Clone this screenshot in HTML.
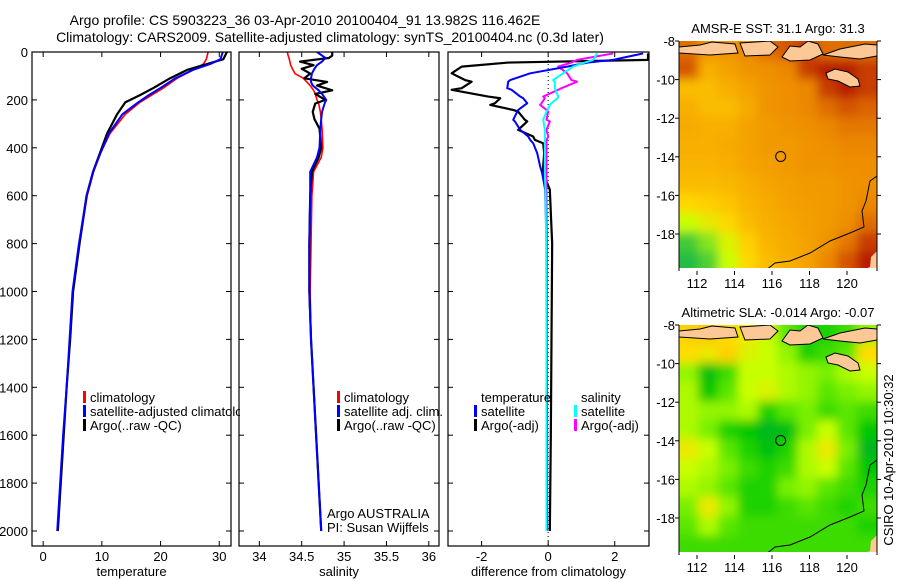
<!DOCTYPE html>
<html><head><meta charset="utf-8"><style>
body{margin:0;background:#fff}
svg{display:block;font-family:"Liberation Sans",sans-serif}
</style></head><body>
<svg id="fig" width="900" height="580" viewBox="0 0 900 580">
<text x="305" y="25" text-anchor="middle" font-size="14">Argo profile: CS 5903223_36 03-Apr-2010 20100404_91 13.982S 116.462E</text>
<text x="330" y="42" text-anchor="middle" font-size="14">Climatology: CARS2009. Satellite-adjusted climatology: synTS_20100404.nc (0.3d later)</text>
<g id="plots"></g>
<text transform="translate(893,460) rotate(-90)" text-anchor="middle" font-size="13">CSIRO 10-Apr-2010 10:30:32</text>
</svg>
<script>
// ---------- data ----------
const depthT = [0,30,50,75,110,150,180,210,260,340,420,500,600,800,1000,1200,1400,1600,1800,2000];
const tempClim = [28.1,27.8,27.3,25.6,22.8,20.5,18.5,16.5,14,11.4,9.8,8.6,7.5,6.2,5.1,4.6,4.0,3.5,3.0,2.5];
const tempSat  = [30.6,30.2,28.5,25.5,22.5,20,18,16.2,13.5,11.2,9.8,8.5,7.4,6.1,5.0,4.5,4.0,3.4,2.9,2.4];
const tempArgo = [31.3,30.7,28,24.5,21.6,18.8,16.5,14,12.6,10.9,9.7,8.5,7.4,6.2,5.1,4.6,4.0,3.5,3.0,2.5];
const depthS = [0,15,25,40,55,70,90,110,125,140,160,175,200,215,250,280,320,400,440,500,600,800,1000,1200,1400,1600,1800,2000];
const salClim = [34.33,34.34,34.35,34.36,34.37,34.39,34.42,34.52,34.56,34.6,34.64,34.66,34.68,34.7,34.72,34.73,34.74,34.75,34.73,34.64,34.62,34.61,34.6,34.61,34.64,34.67,34.7,34.73];
const salSat  = [34.68,34.74,34.78,34.74,34.68,34.65,34.62,34.61,34.61,34.63,34.7,34.74,34.79,34.77,34.74,34.73,34.72,34.71,34.68,34.6,34.6,34.59,34.59,34.61,34.64,34.67,34.7,34.73];
const salArgo = [34.86,34.86,34.82,34.48,34.64,34.5,34.6,34.53,34.8,34.68,34.86,34.66,34.78,34.66,34.63,34.65,34.71,34.73,34.7,34.62,34.6,34.59,34.59,34.61,34.64,34.67,34.7,34.73];
const depthD = [6,33,44,61,89,117,124,151,158,186,193,214,221,242,249,283,290,325,353,367,381,422,478,506,575,800,1200,1600,2000];
const dTempSat  = [2.85,1.95,1.2,0.57,-0.54,-1.14,-1.2,-1.23,-1.1,-0.84,-0.75,-0.63,-0.7,-0.9,-0.93,-1.05,-1.0,-0.84,-0.6,-0.54,-0.45,-0.33,-0.24,-0.18,-0.09,-0.05,-0.04,-0.03,-0.03];
const dTempArgo = [3.0,3.0,-1.2,-2.6,-2.9,-2.5,-2.3,-2.6,-2.9,-1.8,-1.44,-1.6,-1.74,-1.05,-0.9,-0.7,-0.63,-0.9,-0.45,-0.4,-0.15,-0.12,-0.15,-0.15,0.05,0.12,0.1,0.08,0.05];
const dSalSat  = [1.47,1.35,1.1,0.75,0.45,0.15,0.2,0.2,0.22,0.3,0.28,0.1,0.05,-0.02,-0.05,-0.15,-0.14,-0.1,-0.1,-0.1,-0.1,-0.1,-0.1,-0.1,-0.08,-0.06,-0.05,-0.05,-0.05];
const dSalArgo = [1.95,0.87,0.7,0.3,0.57,0.7,0.87,0.4,0.3,-0.15,-0.1,-0.2,-0.24,-0.05,0.0,-0.05,0.05,-0.05,0.0,-0.05,-0.05,-0.05,-0.05,-0.05,-0.05,-0.04,-0.04,-0.04,-0.04];
const depthTicks = [0,200,400,600,800,1000,1200,1400,1600,1800,2000];
const tempTicks = [0,10,20,30];
const salTicks = [34,34.5,35,35.5,36];
const diffTicks = [-2,0,2];
const lonTicks = [112,114,116,118,120];
const latTicks = [-8,-10,-12,-14,-16,-18];
const sstGrid = [
[.8,.7,.7,.75,.8,.85,.9,.8,.8,.8],
[.85,.6,.65,.7,.72,.75,.9,.95,.95,.9],
[.55,.55,.6,.65,.7,.72,.75,.9,.95,.9],
[.6,.55,.55,.62,.7,.72,.75,.8,.85,.82],
[.62,.6,.6,.65,.68,.7,.72,.75,.78,.78],
[.6,.6,.62,.65,.68,.68,.7,.72,.75,.75],
[.58,.58,.6,.64,.66,.68,.7,.7,.72,.72],
[.55,.55,.57,.6,.64,.66,.68,.68,.7,.72],
[.45,.48,.52,.58,.62,.65,.67,.68,.7,.75],
[.3,.38,.45,.55,.6,.63,.66,.68,.72,.8],
[.1,.2,.35,.48,.58,.62,.65,.7,.78,.9],
[.05,.12,.3,.45,.55,.6,.65,.75,.85,.95]];
const slaGrid = [
[.8,.85,.75,.7,.6,.4,.3,.3,.35,.5],
[.75,.7,.8,.65,.6,.5,.3,.35,.4,.75],
[.5,.2,.35,.6,.6,.55,.5,.45,.55,.6],
[.55,.25,.4,.6,.65,.55,.5,.4,.45,.5],
[.55,.5,.5,.55,.3,.4,.45,.35,.4,.35],
[.55,.45,.3,.25,.15,.2,.45,.6,.4,.25],
[.7,.6,.4,.3,.2,.3,.55,.7,.45,.15],
[.6,.55,.45,.35,.3,.35,.55,.6,.4,.25],
[.55,.5,.4,.3,.3,.45,.5,.4,.35,.3],
[.45,.7,.5,.3,.3,.35,.4,.35,.3,.35],
[.4,.55,.4,.35,.35,.35,.35,.35,.35,.3],
[.35,.35,.35,.35,.35,.35,.35,.35,.35,.35]];

const NS="http://www.w3.org/2000/svg";
const root=document.getElementById('plots');
function mk(tag,attrs,parent){const e=document.createElementNS(NS,tag);for(const k in attrs)e.setAttribute(k,attrs[k]);(parent||root).appendChild(e);return e;}
function yD(d){return 52+d*0.2395;}
const defs=mk('defs',{});
const f=mk('filter',{id:'bl',x:'-5%',y:'-5%',width:'110%',height:'110%'},defs);mk('feGaussianBlur',{stdDeviation:5},f);

function panel(name,x0,x1,xmin,xmax,ticks,label,leftLabels,clipExtra){
  const sx=v=>x0+(v-xmin)/(xmax-xmin)*(x1-x0);
  const g=mk('g',{});
  
  
  const cid='pc'+x0;
  const cp=mk('clipPath',{id:cid},defs);mk('rect',{x:x0,y:52,width:x1-x0+clipExtra,height:494},cp);
  const inner=mk('g',{'clip-path':'url(#'+cid+')'},g);
  mk('rect',{x:x0,y:52,width:x1-x0,height:494,fill:'none',stroke:'#000','stroke-width':1.2},g);
  ticks.forEach(t=>{const x=sx(t);
    mk('line',{x1:x,x2:x,y1:546,y2:541,stroke:'#000'},g);
    mk('line',{x1:x,x2:x,y1:52,y2:57,stroke:'#000'},g);
    const tx=mk('text',{x:x,y:561,'text-anchor':'middle','font-size':13},g);tx.textContent=t;
    
    
  });
  depthTicks.forEach(d=>{const y=yD(d);
    mk('line',{x1:x0,x2:x0+5,y1:y,y2:y,stroke:'#000'},g);
    mk('line',{x1:x1,x2:x1-5,y1:y,y2:y,stroke:'#000'},g);
    if(leftLabels){const t=mk('text',{x:28,y:y+5,'text-anchor':'end','font-size':13},g);t.textContent=d;
      
      }
  });
  const xl=mk('text',{x:(x0+x1)/2,y:576,'text-anchor':'middle','font-size':13},g);xl.textContent=label;
  
  
  return {sx,g:inner};
}
function line(p,depths,vals,color,w,name,x0,x1){
  const pts=depths.map((d,i)=>[Math.max(x0,Math.min(x1,p.sx(vals[i]))),yD(d)]);
  const e=mk('polyline',{points:pts.map(q=>q.join(',')).join(' '),fill:'none',stroke:color,'stroke-width':w,'stroke-linejoin':'round'},p.g);
  
  
}
function legend(g,x,y,color,txt){
  if(color)mk('rect',{x:x,y:y-11,width:3,height:12,fill:color},g);
  const t=mk('text',{x:x+7,y:y,'font-size':13},g);t.textContent=txt;
  
  
}
// temperature
const p1=panel('temperature-panel',32,231,-1.9,32,tempTicks,'temperature',true,9);
line(p1,depthT,tempClim,'#f00',1.6,'temp-climatology-line',32,231);
line(p1,depthT,tempArgo,'#000',2.2,'temp-argo-line',32,231);
line(p1,depthT,tempSat,'#00f',2,'temp-satellite-line',32,231);
legend(p1.g,83,402,'#f00','climatology');legend(p1.g,83,416,'#00f','satellite-adjusted climatology');legend(p1.g,83,430,'#000','Argo(..raw -QC)');
// salinity
const p2=panel('salinity-panel',239,439,33.76,36.12,salTicks,'salinity',false,60);
line(p2,depthS,salClim,'#f00',1.6,'sal-climatology-line',239,439);
line(p2,depthS,salArgo,'#000',2.2,'sal-argo-line',239,439);
line(p2,depthS,salSat,'#00f',2,'sal-satellite-line',239,439);
legend(p2.g,337,402,'#f00','climatology');legend(p2.g,337,416,'#00f','satellite adj. clim.');legend(p2.g,337,430,'#000','Argo(..raw -QC)');
legend(p2.g,320,518,null,'Argo AUSTRALIA');legend(p2.g,320,532,null,'PI: Susan Wijffels');
// difference
const p3=panel('difference-panel',448,649,-3.01,3.03,diffTicks,'difference from climatology',false,2);
mk('line',{x1:p3.sx(0),x2:p3.sx(0),y1:52,y2:546,stroke:'#000','stroke-dasharray':'1,3'},p3.g);
line(p3,depthD,dTempArgo,'#000',2.2,'diff-temp-argo-line',448,649);
line(p3,depthD,dSalArgo,'#f0f',2,'diff-sal-argo-line',448,649);
line(p3,depthD,dTempSat,'#00f',2,'diff-temp-satellite-line',448,649);
line(p3,depthD,dSalSat,'#0ff',2,'diff-sal-satellite-line',448,649);
legend(p3.g,474,402,null,'temperature');legend(p3.g,474,416,'#00f','satellite');legend(p3.g,474,430,'#000','Argo(-adj)');
legend(p3.g,574,402,null,'salinity');legend(p3.g,574,416,'#0ff','satellite');legend(p3.g,574,430,'#f0f','Argo(-adj)');

// ---------- maps ----------
function lerpC(stops,v){v=Math.max(0,Math.min(1,v));for(let i=1;i<stops.length;i++){if(v<=stops[i][0]){const a=stops[i-1],b=stops[i],t=(v-a[0])/(b[0]-a[0]);return 'rgb('+[0,1,2].map(k=>Math.round(a[1][k]+(b[1][k]-a[1][k])*t)).join(',')+')';}}return 'rgb('+stops[stops.length-1][1].join(',')+')';}
const sstStops=[[0,[0,176,80]],[.3,[200,255,0]],[.45,[255,215,0]],[.6,[248,175,0]],[.75,[235,135,0]],[.9,[200,60,0]],[1,[165,0,0]]];
const slaStops=[[0,[0,160,70]],[.25,[0,200,0]],[.45,[120,240,0]],[.6,[200,255,0]],[.75,[255,220,0]],[1,[255,160,0]]];
function map(name,top,grid,stops,title,blur){
  const x0=679,x1=877,bot=top+230;
  const lonX=l=>697+(l-112)*18.75, latY=l=>top+(-8-l)*19.3;
  const g=mk('g',{});
  
  
  const tt=mk('text',{x:778,y:top-8,'text-anchor':'middle','font-size':13},g);tt.textContent=title;
  
  
  const cid='clip'+top;
  const cp=mk('clipPath',{id:cid},defs);mk('rect',{x:x0,y:top,width:x1-x0,height:bot-top-2},cp);
  const cg=mk('g',{'clip-path':'url(#'+cid+')'},g);
  const hg=mk('g',blur?{filter:'url(#bl)'}:{},cg);
  const rows=grid.length,cols=grid[0].length,cw=(x1-x0)/cols,ch=(bot-top)/rows;
  grid.forEach((r,i)=>r.forEach((v,j)=>{
    const c=mk('rect',{x:x0+j*cw-0.5-(j==0?10:0),y:top+i*ch-0.5-(i==0?10:0),width:cw+1+(j==0||j==cols-1?10:0),height:ch+1+(i==0||i==rows-1?10:0),fill:lerpC(stops,v)},hg);
    
    
  }));
  const land='#fcc895';
  const islands=[
   [[679,top+6],[700,top+4],[712,top+1],[735,top+3],[738,top+12],[710,top+14],[679,top+12]],
   [[740,top+2],[770,top+0],[778,top+6],[770,top+14],[745,top+15]],
   [[782,top+16],[790,top+5],[800,top+6],[808,top+0],[818,top+3],[823,top+13],[810,top+19],[790,top+20]],
   [[823,top+14],[840,top+8],[855,top+5],[865,top+3],[877,top+4],[877,top+15],[860,top+18],[840,top+16]],
   [[826,top+32],[835,top+28],[848,top+31],[858,top+38],[860,top+45],[850,top+46],[838,top+40],[828,top+38]]];
  islands.forEach(p=>{const e=mk('polygon',{points:p.map(q=>q.join(',')).join(' '),fill:land,stroke:'#000','stroke-width':1},cg);
    
    });
  mk('polygon',{points:`877,${top+210} 871,${top+216} 870,${top+226} 860,${bot} 877,${bot}`,fill:land},cg);
  const coast=mk('polyline',{points:`877,${top+135} 870,${top+140} 866,${top+160} 862,${top+170} 864,${top+186} 850,${top+192} 830,${top+200} 810,${top+212} 790,${top+220} 775,${top+222} 765,${bot}`,fill:'none',stroke:'#000','stroke-width':1},cg);
  
  
  mk('rect',{x:x0,y:bot-3,width:x1-x0,height:3,fill:'#fff'},cg);
  const ci=mk('circle',{cx:lonX(116.462),cy:latY(-13.982),r:5,fill:'none',stroke:'#000'},g);
  
  
  mk('line',{x1:x0,x2:x0,y1:top,y2:bot,stroke:'#000'},g);
  mk('line',{x1:x1,x2:x1,y1:top,y2:bot,stroke:'#000'},g);
  lonTicks.forEach(l=>{const x=lonX(l);mk('line',{x1:x,x2:x,y1:bot,y2:bot+4,stroke:'#000'},g);
    const t=mk('text',{x:x,y:bot+17,'text-anchor':'middle','font-size':13},g);t.textContent=l;
    
    });
  latTicks.forEach(l=>{const y=latY(l);mk('line',{x1:x0,x2:x0-4,y1:y,y2:y,stroke:'#000'},g);mk('line',{x1:x1,x2:x1+4,y1:y,y2:y,stroke:'#000'},g);
    const t=mk('text',{x:x0-4,y:y+5,'text-anchor':'end','font-size':13},g);t.textContent=l;
    
    });
}
map('sst-map',41,sstGrid,sstStops,'AMSR-E SST: 31.1 Argo: 31.3',true);
map('sla-map',325,slaGrid,slaStops,'Altimetric SLA: -0.014 Argo: -0.07',true);
</script>
</body></html>
